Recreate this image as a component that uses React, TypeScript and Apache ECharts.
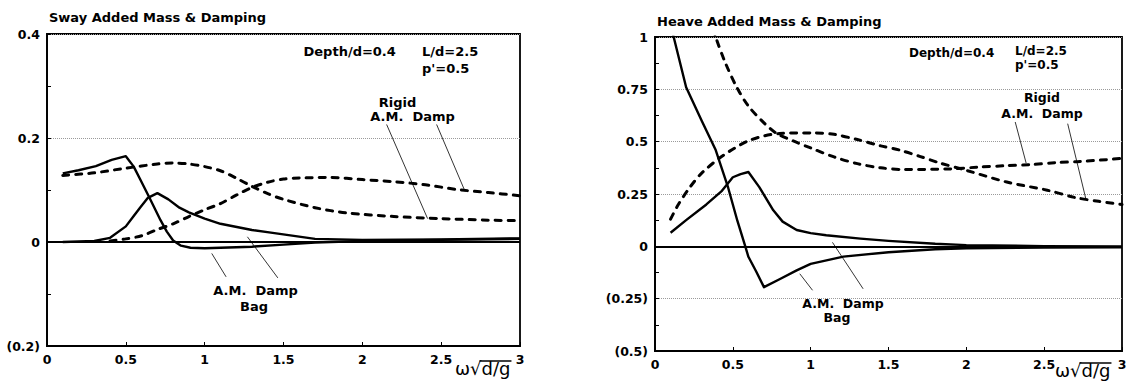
import React, { useEffect, useRef } from "react";
import * as echarts from "echarts";

const FONT = '"DejaVu Sans", "Liberation Sans", Arial, sans-serif';

// ---------- Sway panel data ----------
const swayBagAmX = [0.1, 0.2, 0.31, 0.41, 0.5, 0.55, 0.59, 0.65, 0.72, 0.76, 0.8, 0.85, 0.91, 1.0, 1.1, 1.3, 1.5, 1.7, 2.0, 2.5, 3.0];
const swayBagAmY = [0.132, 0.138, 0.146, 0.158, 0.165, 0.145, 0.121, 0.085, 0.042, 0.02, 0.003, -0.007, -0.011, -0.012, -0.011, -0.009, -0.005, -0.001, 0.002, 0.004, 0.006];

const swayBagDampX = [0.1, 0.3, 0.4, 0.5, 0.55, 0.59, 0.64, 0.7, 0.77, 0.84, 0.9, 1.0, 1.1, 1.3, 1.42, 1.7, 2.0, 2.5, 3.0];
const swayBagDampY = [0.0, 0.002, 0.008, 0.03, 0.05, 0.066, 0.085, 0.094, 0.082, 0.066, 0.057, 0.045, 0.035, 0.023, 0.018, 0.006, 0.004, 0.005, 0.007];

const swayRigidAmX = [0.1, 0.3, 0.5, 0.7, 0.8, 0.9, 1.0, 1.1, 1.2, 1.3, 1.4, 1.5, 1.7, 1.9, 2.2, 2.5, 2.8, 3.0];
const swayRigidAmY = [0.128, 0.133, 0.142, 0.15, 0.152, 0.15, 0.145, 0.137, 0.123, 0.107, 0.093, 0.082, 0.066, 0.056, 0.049, 0.045, 0.042, 0.041];

const swayRigidDampX = [0.4, 0.5, 0.6, 0.7, 0.8, 0.9, 1.0, 1.1, 1.2, 1.3, 1.4, 1.5, 1.6, 1.8, 2.0, 2.2, 2.4, 2.6, 2.8, 3.0];
const swayRigidDampY = [0.002, 0.006, 0.012, 0.024, 0.035, 0.049, 0.062, 0.074, 0.09, 0.105, 0.115, 0.121, 0.123, 0.124, 0.12, 0.116, 0.11, 0.101, 0.095, 0.089];

// ---------- Heave panel data ----------
const heaveBagAmX = [0.1, 0.12, 0.2, 0.3, 0.39, 0.47, 0.53, 0.58, 0.6, 0.65, 0.7, 0.8, 0.91, 1.0, 1.21, 1.5, 1.8, 2.0, 2.5, 3.0];
const heaveBagAmY = [1.06, 1.0, 0.76, 0.6, 0.46, 0.28, 0.12, 0.0, -0.05, -0.12, -0.195, -0.157, -0.115, -0.084, -0.049, -0.028, -0.014, -0.009, -0.006, -0.005];

const heaveBagDampX = [0.1, 0.2, 0.33, 0.43, 0.5, 0.55, 0.6, 0.67, 0.76, 0.82, 0.91, 1.0, 1.1, 1.32, 1.5, 1.8, 2.0, 2.5, 3.0];
const heaveBagDampY = [0.065, 0.125, 0.2, 0.265, 0.33, 0.345, 0.355, 0.283, 0.172, 0.118, 0.078, 0.063, 0.053, 0.037, 0.026, 0.012, 0.006, 0.001, 0.0];

const heaveRigidAmX = [0.35, 0.39, 0.45, 0.525, 0.6, 0.7, 0.78, 0.9, 1.0, 1.15, 1.3, 1.45, 1.6, 1.9, 2.07, 2.25, 2.41, 2.58, 2.73, 3.0];
const heaveRigidAmY = [1.1, 1.0, 0.88, 0.76, 0.67, 0.59, 0.54, 0.5, 0.47, 0.427, 0.395, 0.375, 0.367, 0.37, 0.378, 0.385, 0.39, 0.4, 0.405, 0.42];

const heaveRigidDampX = [0.1, 0.15, 0.225, 0.3, 0.44, 0.61, 0.8, 1.02, 1.15, 1.3, 1.45, 1.575, 1.7, 1.83, 2.0, 2.26, 2.52, 2.7, 2.85, 3.0];
const heaveRigidDampY = [0.13, 0.2, 0.283, 0.35, 0.435, 0.507, 0.539, 0.542, 0.535, 0.51, 0.48, 0.459, 0.43, 0.398, 0.363, 0.307, 0.268, 0.233, 0.215, 0.2];

// ---------- axis ticks ----------
const xTickValues = [0, 0.5, 1, 1.5, 2, 2.5, 3];
const swayYRange = [-0.2, 0.4];
const heaveYRange = [-0.5, 1];

// ---------- leader lines (data coords: x1,y1,x2,y2) ----------
const swayLeaders = [
  [2.154, 0.226, 2.414, 0.045],
  [2.471, 0.226, 2.652, 0.097],
  [1.045, -0.022, 1.136, -0.067],
  [1.271, 0.01, 1.464, -0.069],
];
const heaveLeaders = [
  [2.314, 0.594, 2.384, 0.398],
  [2.651, 0.586, 2.767, 0.229],
  [0.93, -0.131, 1.012, -0.21],
  [1.14, 0.019, 1.337, -0.203],
];

const zip = (xs: number[], ys: number[]) => xs.map((x, i) => [x, ys[i]]);

const fmtY = (v: number) => {
  const r = Number(v.toFixed(2));
  if (r < 0) return "(" + String(Math.abs(r)) + ")";
  return String(r);
};

function curve(xs: number[], ys: number[], dashed: boolean, g: number) {
  return {
    type: "line",
    xAxisIndex: g,
    yAxisIndex: g,
    data: zip(xs, ys),
    symbol: "none",
    showSymbol: false,
    silent: true,
    clip: true,
    smooth: dashed ? 0.3 : false,
    z: 3,
    lineStyle: {
      color: "#000",
      width: dashed ? 3 : 2.4,
      type: dashed ? [6, 7] : "solid",
      cap: dashed ? "round" : "butt",
      join: "round",
    },
  };
}

function leader(seg: number[], g: number) {
  return {
    type: "line",
    xAxisIndex: g,
    yAxisIndex: g,
    data: [
      [seg[0], seg[1]],
      [seg[2], seg[3]],
    ],
    symbol: "none",
    silent: true,
    z: 4,
    lineStyle: { color: "#000", width: 0.8 },
  };
}

function zeroLine(g: number) {
  return {
    type: "line",
    xAxisIndex: g,
    yAxisIndex: g,
    data: [],
    silent: true,
    markLine: {
      silent: true,
      symbol: "none",
      label: { show: false },
      lineStyle: { color: "#000", width: 1.8, type: "solid" },
      data: [{ yAxis: 0 }],
    },
  };
}

const labelStyle = {
  color: "#000",
  fontFamily: FONT,
  fontSize: 12.5,
  fontWeight: "bold" as const,
};

function xAxis(g: number) {
  return {
    type: "value",
    gridIndex: g,
    min: xTickValues[0],
    max: xTickValues[xTickValues.length - 1],
    interval: 0.5,
    axisLine: { show: true, onZero: false, lineStyle: { color: "#000", width: 1.8 } },
    axisTick: { show: true, inside: true, length: 4, lineStyle: { color: "#000", width: 1 } },
    axisLabel: { ...labelStyle, margin: 7, showMinLabel: true, showMaxLabel: true, formatter: (v: number) => String(Number(v.toFixed(2))) },
    splitLine: { show: false },
  };
}

function yAxis(g: number, range: number[], interval: number) {
  return {
    type: "value",
    gridIndex: g,
    min: range[0],
    max: range[1],
    interval,
    axisLine: { show: true, lineStyle: { color: "#000", width: 1.8 } },
    axisTick: { show: true, inside: true, length: 4, lineStyle: { color: "#000", width: 1 } },
    minorTick: { show: true, splitNumber: 2, length: 4, lineStyle: { color: "#000", width: 1 } },
    axisLabel: { ...labelStyle, margin: 7, showMinLabel: true, showMaxLabel: true, formatter: fmtY },
    splitLine: { show: true, lineStyle: { color: "#9a9a9a", type: "dotted", width: 1 } },
  };
}

function txt(text: string, x: number, y: number, align: string, size = 13, weight = "bold") {
  return {
    type: "text",
    x,
    y,
    z: 10,
    style: {
      text,
      fill: "#000",
      font: `${weight} ${size}px ${FONT}`,
      textAlign: align,
      textVerticalAlign: "middle",
      verticalAlign: "middle",
    },
  };
}

function omega(x0: number, baseline: number) {
  const size = 18;
  let w1 = 27;
  let w2 = 29;
  try {
    const ctx = document.createElement("canvas").getContext("2d");
    if (ctx) {
      ctx.font = `${size}px ${FONT}`;
      w1 = ctx.measureText("ω√").width;
      w2 = ctx.measureText("d/g").width;
    }
  } catch (e) {}
  return [
    {
      type: "text",
      x: x0,
      y: baseline,
      z: 10,
      style: { text: "ω√d/g", fill: "#000", font: `${size}px ${FONT}`, textAlign: "left", textVerticalAlign: "bottom", verticalAlign: "bottom" },
    },
    {
      type: "line",
      z: 10,
      shape: { x1: x0 + w1 - 2, y1: baseline - 16, x2: x0 + w1 + w2 + 1, y2: baseline - 16 },
      style: { stroke: "#000", lineWidth: 1.3 },
    },
  ];
}

export default function App() {
  const ref = useRef<HTMLDivElement>(null);
  useEffect(() => {
    if (!ref.current) return;
    const chart = echarts.init(ref.current, null, { renderer: "svg" });
    const option: any = {
      animation: false,
      backgroundColor: "#fff",
      grid: [
        { left: 47, top: 34, width: 473, height: 312, show: true, borderColor: "#000", borderWidth: 1.8, containLabel: false },
        { left: 655, top: 37, width: 467, height: 314, show: true, borderColor: "#000", borderWidth: 1.8, containLabel: false },
      ],
      xAxis: [xAxis(0), xAxis(1)],
      yAxis: [yAxis(0, swayYRange, 0.2), yAxis(1, heaveYRange, 0.25)],
      series: [
        zeroLine(0),
        zeroLine(1),
        curve(swayBagAmX, swayBagAmY, false, 0),
        curve(swayBagDampX, swayBagDampY, false, 0),
        curve(swayRigidAmX, swayRigidAmY, true, 0),
        curve(swayRigidDampX, swayRigidDampY, true, 0),
        curve(heaveBagAmX, heaveBagAmY, false, 1),
        curve(heaveBagDampX, heaveBagDampY, false, 1),
        curve(heaveRigidAmX, heaveRigidAmY, true, 1),
        curve(heaveRigidDampX, heaveRigidDampY, true, 1),
        ...swayLeaders.map((s) => leader(s, 0)),
        ...heaveLeaders.map((s) => leader(s, 1)),
      ],
      graphic: [
        txt("Sway Added Mass & Damping", 49, 17, "left", 13),
        txt("Depth/d=0.4", 303.5, 51.5, "left"),
        txt("L/d=2.5", 422, 51.5, "left"),
        txt("p'=0.5", 422, 68, "left"),
        txt("Rigid", 397.5, 102, "center"),
        txt("A.M.  Damp", 412.6, 116, "center"),
        txt("A.M.  Damp", 255.6, 290, "center"),
        txt("Bag", 254, 306, "center"),
        ...omega(455, 377),
        txt("Heave Added Mass & Damping", 657, 21, "left", 13),
        txt("Depth/d=0.4", 909, 53, "left", 12),
        txt("L/d=2.5", 1015, 50.5, "left", 12),
        txt("p'=0.5", 1015, 65, "left", 12),
        txt("Rigid", 1042, 97, "center", 12.5),
        txt("A.M.  Damp", 1042, 113, "center", 12.5),
        txt("A.M.  Damp", 843, 303, "center", 12.5),
        txt("Bag", 837, 317, "center", 12.5),
        ...omega(1055, 379),
      ],
    };
    chart.setOption(option);
    return () => chart.dispose();
  }, []);
  return (
    <div
      ref={ref}
      style={{ position: "absolute", left: 0, top: 0, width: 1132, height: 387, background: "#fff" }}
    />
  );
}
